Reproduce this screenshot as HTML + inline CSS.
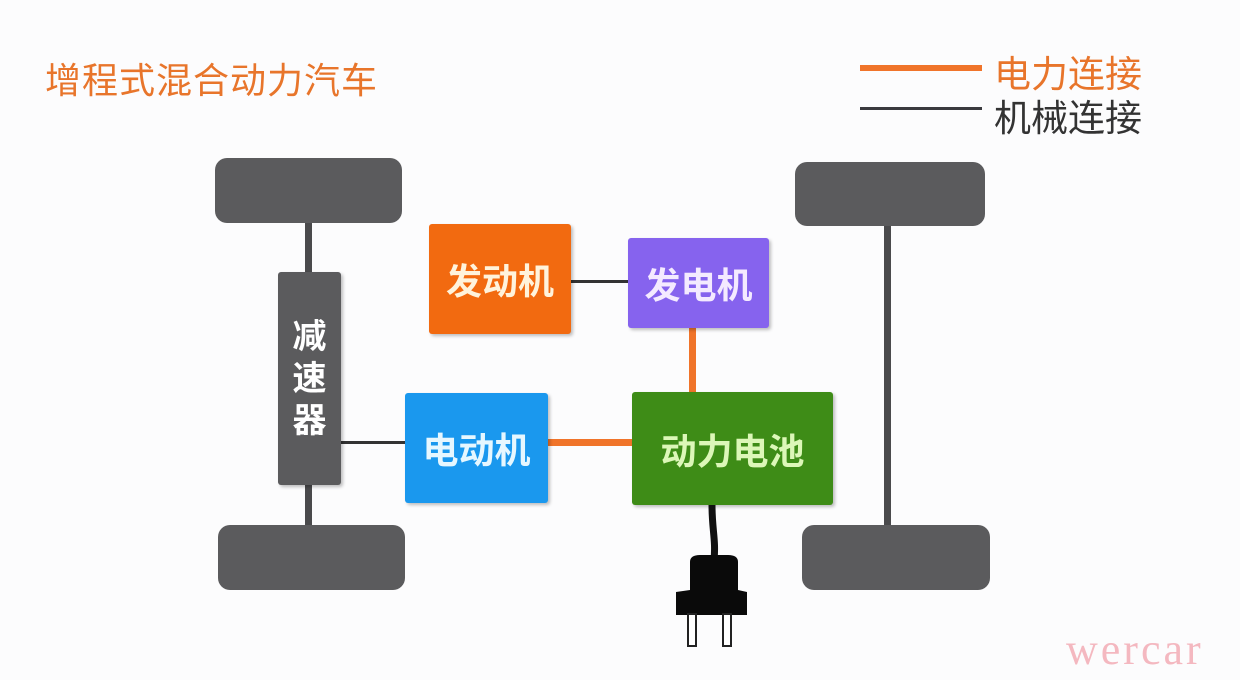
<!DOCTYPE html>
<html><head><meta charset="utf-8"><style>
body{margin:0;width:1240px;height:680px;background:#fcfcfd;position:relative;overflow:hidden;font-family:"Liberation Sans","Noto Sans CJK SC",sans-serif}
.a{position:absolute}
.w{position:absolute;background:#5b5b5d;border-radius:12px}
.b{position:absolute;display:flex;align-items:center;justify-content:center;font-weight:bold;font-size:36px;border-radius:3px;box-shadow:2px 2px 3px rgba(0,0,0,.25)}
</style></head><body>
<div class="a" style="left:45px;top:52px;font-size:36px;color:#e8752b;letter-spacing:1px">增程式混合动力汽车</div>
<div class="a" style="left:860px;top:65px;width:122px;height:6px;background:#f0742a"></div>
<div class="a" style="left:860px;top:107px;width:122px;height:3px;background:#3a3a3e"></div>
<div class="a" style="left:994px;top:44px;font-size:37px;color:#e8752b">电力连接</div>
<div class="a" style="left:994px;top:88px;font-size:37px;color:#333">机械连接</div>

<div class="a" style="left:305px;top:220px;width:7px;height:310px;background:#4a4a4c"></div>
<div class="a" style="left:884px;top:220px;width:7px;height:310px;background:#4a4a4c"></div>
<div class="w" style="left:215px;top:158px;width:187px;height:65px"></div>
<div class="w" style="left:218px;top:525px;width:187px;height:65px"></div>
<div class="w" style="left:795px;top:162px;width:190px;height:64px"></div>
<div class="w" style="left:802px;top:525px;width:188px;height:65px"></div>

<div class="a" style="left:340px;top:441px;width:66px;height:3px;background:#333"></div>
<div class="a" style="left:571px;top:280px;width:58px;height:3px;background:#333"></div>
<div class="a" style="left:689px;top:327px;width:7px;height:66px;background:#f0742a"></div>
<div class="a" style="left:547px;top:439px;width:86px;height:7px;background:#f0742a"></div>

<div class="b" style="left:278px;top:272px;width:63px;height:213px;background:#5b5b5d;color:#fff;font-size:34px;line-height:42px;text-align:center;flex-direction:column"><span>减</span><span>速</span><span>器</span></div>
<div class="b" style="left:429px;top:224px;width:142px;height:110px;background:#f26a10;color:#fff3dc">发动机</div>
<div class="b" style="left:628px;top:238px;width:141px;height:90px;background:#8663ee;color:#f4eaff">发电机</div>
<div class="b" style="left:405px;top:393px;width:143px;height:110px;background:#1a98ee;color:#e6f7ff">电动机</div>
<div class="b" style="left:632px;top:392px;width:201px;height:113px;background:#3e8c17;color:#dcf7b8">动力电池</div>

<svg class="a" style="left:660px;top:500px" width="110" height="150">
<path d="M52 5 C52 30 56 40 54 60" stroke="#111" stroke-width="7" fill="none"/>
<path d="M30 62 Q30 55 40 55 L68 55 Q78 55 78 62 L78 90 L87 92 L87 115 L16 115 L16 92 L30 90 Z" fill="#0a0a0a"/>
<rect x="28" y="114" width="8" height="32" fill="#fff" stroke="#222" stroke-width="2"/>
<rect x="63" y="114" width="8" height="32" fill="#fff" stroke="#222" stroke-width="2"/>
</svg>
<div class="a" style="left:1066px;top:624px;font-family:'Liberation Serif',serif;font-size:44px;color:#f4b8c0;letter-spacing:3px">wercar</div>
</body></html>
